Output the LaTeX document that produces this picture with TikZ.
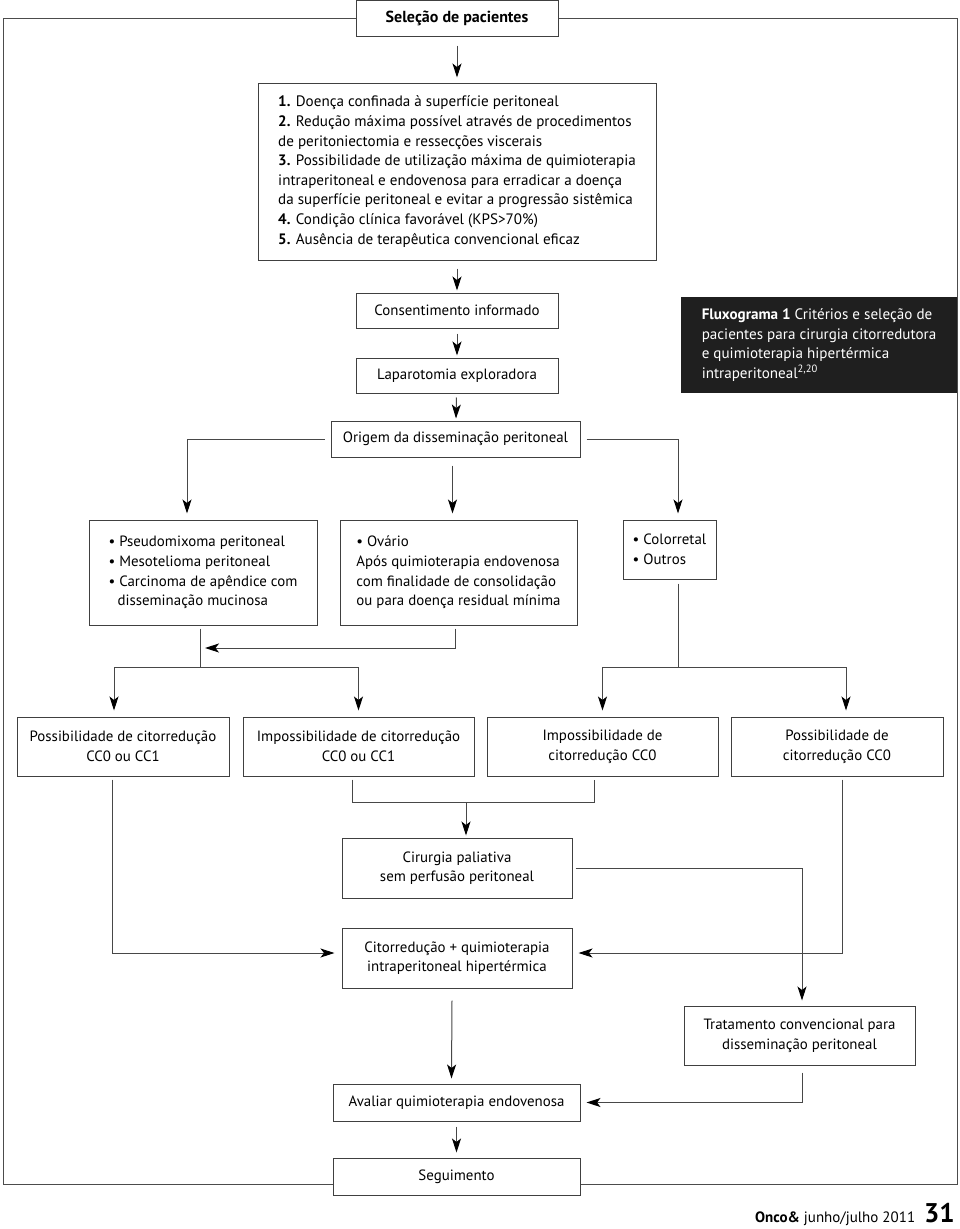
\documentclass[tikz,border=0pt]{standalone}
\usepackage{fontspec}
\setmainfont{PT Sans}
\usetikzlibrary{arrows.meta}
\newcommand{\fs}{\fontsize{14.9}{19.6}\selectfont}
\begin{document}
\begin{tikzpicture}[x=1pt,y=-1pt,
  box/.style={draw=black!75,line width=1pt,fill=white,inner sep=0pt,align=center,font=\fs},
  frame/.style={draw=black!70,line width=1pt},
  ln/.style={draw=black!72,line width=1pt},
  arr/.style={ln,-{Stealth[length=14pt,width=9pt,inset=3.5pt,color=black]}}]
\useasboundingbox (0,0) rectangle (960,1229);
\draw[frame] (3,18) rectangle (957,1184);
% nodes
\node[box,minimum width=202,minimum height=36] (sel) at (457,18) {\fontsize{16}{19}\selectfont\textbf{Seleção de pacientes}};
\node[box,minimum width=398,minimum height=177,align=left,font=\fontsize{15.1}{19.6}\selectfont] (crit) at (457,171.5) {\textbf{1.} Doença confinada à superfície peritoneal\\
\textbf{2.} Redução máxima possível através de procedimentos\\
de peritoniectomia e ressecções viscerais\\
\textbf{3.} Possibilidade de utilização máxima de quimioterapia\\
intraperitoneal e endovenosa para erradicar a doença\\
da superfície peritoneal e evitar a progressão sistêmica\\
\textbf{4.} Condição clínica favorável (KPS>70\%)\\
\textbf{5.} Ausência de terapêutica convencional eficaz};
\node[box,minimum width=202,minimum height=35] (cons) at (457,310.5) {Consentimento informado};
\node[box,minimum width=202,minimum height=35] (lap) at (457,375.5) {Laparotomia exploradora};
\node[box,minimum width=249,minimum height=36] (orig) at (455.5,439) {Origem da disseminação peritoneal};
\node[box,draw=none,fill=black!88,text=white,minimum width=276,minimum height=96,align=left,font=\fontsize{15.1}{19.5}\selectfont] (flux) at (819,345) {\textbf{Fluxograma 1} Critérios e seleção de\\
pacientes para cirurgia citorredutora\\
e quimioterapia hipertérmica\\
intraperitoneal\textsuperscript{2,20}};
\node[box,minimum width=228,minimum height=105,align=left] (pseu) at (203,572.5) {• Pseudomixoma peritoneal\\
• Mesotelioma peritoneal\\
• Carcinoma de apêndice com\\
\hspace*{0.6em}disseminação mucinosa};
\node[box,minimum width=237,minimum height=105,align=left] (ova) at (458.5,572.5) {• Ovário\\
Após quimioterapia endovenosa\\
com finalidade de consolidação\\
ou para doença residual mínima};
\node[box,minimum width=93,minimum height=59,align=left] (colo) at (669.5,549.5) {• Colorretal\\
• Outros};
\node[box,minimum width=212,minimum height=59] (A) at (123,746.5) {Possibilidade de citorredução\\CC0 ou CC1};
\node[box,minimum width=231,minimum height=59] (B) at (358.5,746.5) {Impossibilidade de citorredução\\CC0 ou CC1};
\node[box,minimum width=231,minimum height=59] (C) at (602.5,746.5) {Impossibilidade de\\citorredução CC0};
\node[box,minimum width=212,minimum height=59] (D) at (837,746.5) {Possibilidade de\\citorredução CC0};
\node[box,minimum width=230,minimum height=60] (pal) at (457,868) {Cirurgia paliativa\\sem perfusão peritoneal};
\node[box,minimum width=230,minimum height=60] (cit) at (457,958) {Citorredução + quimioterapia\\intraperitoneal hipertérmica};
\node[box,minimum width=231,minimum height=59] (trat) at (799.5,1035.5) {Tratamento convencional para\\disseminação peritoneal};
\node[box,minimum width=247,minimum height=37] (aval) at (456.5,1102.5) {Avaliar quimioterapia endovenosa};
\node[box,minimum width=247,minimum height=37] (seg) at (456.5,1176.5) {Seguimento};
\node[anchor=base east,inner sep=0pt] (foot) at (955,1222) {\fontsize{15}{18}\selectfont\textbf{Onco\&} junho/julho 2011\hspace{9pt}{\fontsize{27}{28}\selectfont\textbf{31}}};
% connectors
\draw[arr,shorten <=9pt,shorten >=5pt] (sel) -- (crit);
\draw[arr,shorten <=8pt,shorten >=2pt] (crit) -- (cons);
\draw[arr,shorten <=5pt,shorten >=2pt] (cons) -- (lap);
\draw[arr,shorten <=4pt,shorten >=2pt] (lap) -- (orig);
\draw[arr] ([xshift=-6pt]orig.west) -| ([xshift=-16pt,yshift=6pt]pseu.north);
\draw[arr] ([xshift=-3pt,yshift=-8pt]orig.south) -- ([xshift=-6pt,yshift=6pt]ova.north);
\draw[arr] ([xshift=6pt]orig.east) -| ([xshift=8.5pt,yshift=6pt]colo.north);
\coordinate (j0) at (205,648);
\coordinate (j1) at (200,667);
\coordinate (j2) at (678,667);
\coordinate (j3) at (466,802);
\draw[ln] ([xshift=-3pt,yshift=-3pt]pseu.south) -- (j1);
\draw[arr] ([xshift=-3pt,yshift=-3pt]ova.south) |- (j0);
\draw[arr] (j1) -| ([xshift=-9pt,yshift=6pt]A.north);
\draw[arr] (j1) -| ([yshift=6pt]B.north);
\draw[ln] ([xshift=8.5pt,yshift=-4pt]colo.south) -- (j2);
\draw[arr] (j2) -| ([yshift=6pt]C.north);
\draw[arr] (j2) -| ([xshift=9pt,yshift=6pt]D.north);
\draw[arr] ([xshift=-11pt,yshift=-3pt]A.south) |- ([xshift=-7pt,yshift=5pt]cit.west);
\draw[ln] ([xshift=-6.5pt,yshift=-3pt]B.south) |- (j3) -| ([xshift=-8.5pt,yshift=-3pt]C.south);
\draw[arr] (j3) -- ([xshift=9pt,yshift=2pt]pal.north);
\draw[arr] ([xshift=3pt]pal.east) -| ([xshift=2.5pt,yshift=5pt]trat.north);
\draw[arr] ([xshift=5pt,yshift=-3pt]D.south) |- ([xshift=6pt,yshift=5pt]cit.east);
\draw[arr] ([xshift=-5pt,yshift=-12pt]cit.south) -- ([xshift=-5pt,yshift=5pt]aval.north);
\draw[arr] ([xshift=2.5pt,yshift=-7pt]trat.south) |- ([xshift=6pt]aval.east);
\draw[arr,shorten <=5pt,shorten >=5pt] (aval) -- (seg);
\end{tikzpicture}
\end{document}
